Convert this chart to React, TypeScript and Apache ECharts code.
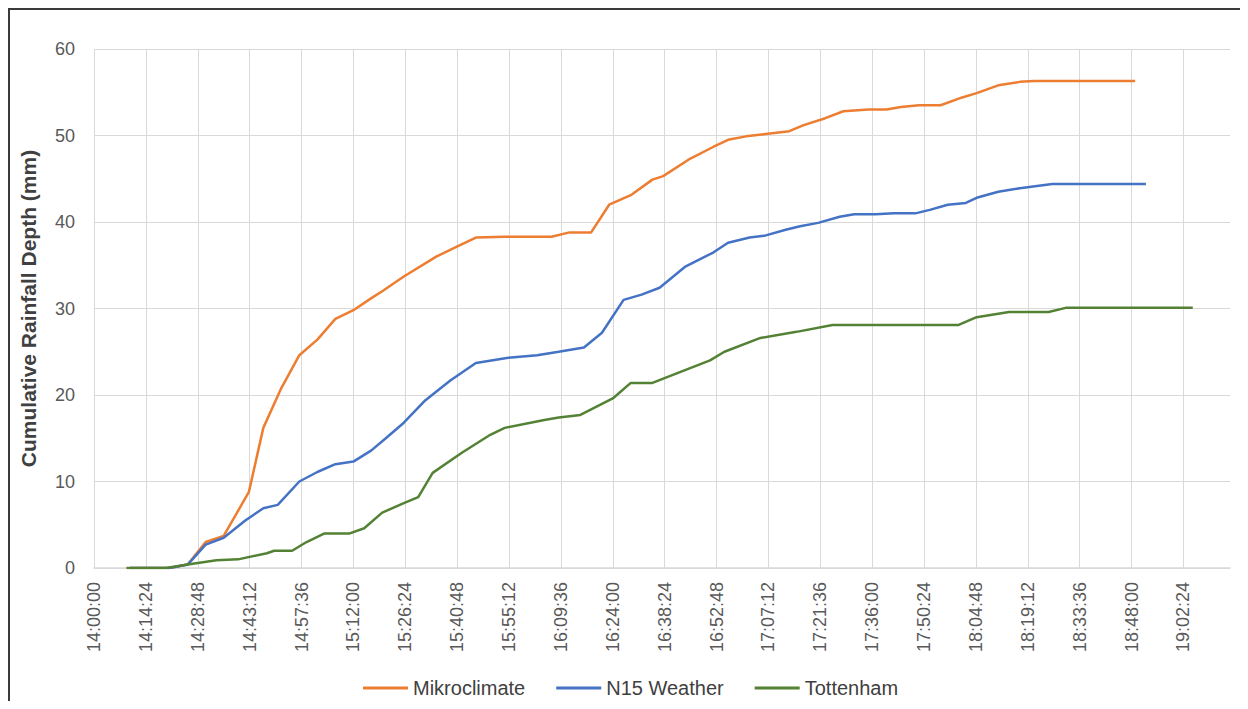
import React, { useEffect, useRef } from "react";
import * as echarts from "echarts";

const seriesNames = ["Mikroclimate", "N15 Weather", "Tottenham"];

const mikroTimes = ["14:10", "14:15", "14:21", "14:26", "14:31", "14:36", "14:43", "14:47", "14:52", "14:57", "15:02", "15:07", "15:12", "15:17", "15:20", "15:26", "15:35", "15:40", "15:46", "15:54", "16:07", "16:12", "16:18", "16:23", "16:29", "16:35", "16:38", "16:45", "16:52", "16:56", "17:01", "17:07", "17:13", "17:17", "17:23", "17:28", "17:35", "17:40", "17:44", "17:49", "17:55", "18:01", "18:05", "18:11", "18:17", "18:21", "18:49"];
const mikroValues = [0, 0, 0, 0.4, 3.0, 3.7, 8.8, 16.2, 20.8, 24.6, 26.4, 28.8, 29.8, 31.2, 32.0, 33.7, 36.0, 37.0, 38.2, 38.3, 38.3, 38.8, 38.8, 42.0, 43.1, 44.9, 45.3, 47.2, 48.7, 49.5, 49.9, 50.2, 50.5, 51.2, 52.0, 52.8, 53.0, 53.0, 53.3, 53.5, 53.5, 54.4, 54.9, 55.8, 56.2, 56.3, 56.3];

const n15Times = ["14:10", "14:21", "14:26", "14:31", "14:36", "14:42", "14:47", "14:51", "14:57", "15:02", "15:07", "15:12", "15:17", "15:21", "15:26", "15:32", "15:39", "15:46", "15:55", "16:03", "16:09", "16:16", "16:21", "16:27", "16:32", "16:37", "16:44", "16:52", "16:56", "17:02", "17:06", "17:12", "17:16", "17:21", "17:27", "17:31", "17:37", "17:42", "17:48", "17:52", "17:57", "18:02", "18:05", "18:11", "18:17", "18:26", "18:52"];
const n15Values = [0, 0, 0.4, 2.7, 3.5, 5.5, 6.9, 7.3, 10.0, 11.1, 12.0, 12.3, 13.6, 15.0, 16.8, 19.4, 21.7, 23.7, 24.3, 24.6, 25.0, 25.5, 27.2, 31.0, 31.6, 32.4, 34.8, 36.5, 37.6, 38.2, 38.4, 39.1, 39.5, 39.9, 40.6, 40.9, 40.9, 41.0, 41.0, 41.4, 42.0, 42.2, 42.8, 43.5, 43.9, 44.4, 44.4];

const tottTimes = ["14:09", "14:20", "14:26", "14:34", "14:40", "14:48", "14:50", "14:55", "14:59", "15:04", "15:11", "15:15", "15:20", "15:26", "15:30", "15:34", "15:42", "15:50", "15:54", "16:05", "16:09", "16:15", "16:24", "16:29", "16:35", "16:43", "16:51", "16:55", "17:05", "17:15", "17:25", "18:00", "18:05", "18:14", "18:25", "18:30", "19:05"];
const tottValues = [0, 0, 0.4, 0.9, 1.0, 1.7, 2.0, 2.0, 3.0, 4.0, 4.0, 4.6, 6.4, 7.5, 8.2, 11.0, 13.3, 15.4, 16.2, 17.1, 17.4, 17.7, 19.6, 21.4, 21.4, 22.7, 24.0, 25.0, 26.6, 27.3, 28.1, 28.1, 29.0, 29.6, 29.6, 30.1, 30.1];

const colors = ["#ED7D31", "#4472C4", "#548235"];

const AXIS_START = "14:00:00";
const TICK_STEP = 864; // seconds (14:24)
const AXIS_END_SEC = 18920;

function toSec(t: string): number {
  const p = t.split(":").map(Number);
  const s0 = AXIS_START.split(":").map(Number);
  return (p[0] - s0[0]) * 3600 + (p[1] - s0[1]) * 60 + ((p[2] || 0) - s0[2]);
}

function fmt(sec: number): string {
  const s0 = AXIS_START.split(":").map(Number);
  let total = s0[0] * 3600 + s0[1] * 60 + s0[2] + Math.round(sec);
  const h = Math.floor(total / 3600);
  total -= h * 3600;
  const m = Math.floor(total / 60);
  const s = total - m * 60;
  const pad = (n: number) => (n < 10 ? "0" + n : "" + n);
  return h + ":" + pad(m) + ":" + pad(s);
}

function pairs(times: string[], vals: number[]) {
  return times.map((t, i) => [toSec(t), vals[i]]);
}

const FONT = "'Liberation Sans', Arial, sans-serif";

export default function App() {
  const ref = useRef<HTMLDivElement>(null);
  useEffect(() => {
    if (!ref.current) return;
    const chart = echarts.init(ref.current, undefined, { renderer: "svg" });
    const data = [pairs(mikroTimes, mikroValues), pairs(n15Times, n15Values), pairs(tottTimes, tottValues)];
    chart.setOption({
      animation: false,
      backgroundColor: "#ffffff",
      textStyle: { fontFamily: FONT },
      grid: { left: 79, top: 39, right: 10, bottom: 133, containLabel: false },
      legend: {
        left: 348,
        top: 663,
        icon: "rect",
        itemWidth: 45,
        itemHeight: 3,
        itemGap: 31,
        textStyle: { fontSize: 20, color: "#404040", fontFamily: FONT },
        data: seriesNames,
      },
      xAxis: {
        type: "value",
        min: 0,
        max: AXIS_END_SEC,
        interval: TICK_STEP,
        axisLine: { show: true, lineStyle: { color: "#d9d9d9", width: 1.5 } },
        axisTick: { show: false },
        axisLabel: {
          rotate: 90,
          margin: 14,
          fontSize: 18,
          color: "#595959",
          fontFamily: FONT,
          showMaxLabel: false,
          formatter: (v: number) => fmt(v),
        },
        splitLine: { show: true, showMaxLine: false, lineStyle: { color: "#d9d9d9", width: 1 } },
      },
      yAxis: {
        type: "value",
        min: 0,
        max: 60,
        interval: 10,
        name: "Cumulative Rainfall Depth (mm)",
        nameLocation: "middle",
        nameRotate: 90,
        nameGap: 55,
        nameTextStyle: { fontSize: 21, fontWeight: "bold", color: "#404040", fontFamily: FONT },
        axisLine: { show: false },
        axisTick: { show: false },
        axisLabel: { fontSize: 18, color: "#595959", margin: 19, fontFamily: FONT },
        splitLine: { show: true, lineStyle: { color: "#d9d9d9", width: 1 } },
      },
      series: seriesNames.map((n, i) => ({
        name: n,
        type: "line",
        data: data[i],
        symbol: "none",
        color: colors[i],
        lineStyle: { width: 2.5, color: colors[i] },
        itemStyle: { color: colors[i] },
      })),
    });
    return () => chart.dispose();
  }, []);
  return (
    <div
      style={{
        width: 1232,
        height: 693,
        boxSizing: "border-box",
        borderTop: "2px solid #3a3a3a",
        borderLeft: "2px solid #3a3a3a",
      }}
    >
      <div ref={ref} style={{ width: 1230, height: 691 }} />
    </div>
  );
}
